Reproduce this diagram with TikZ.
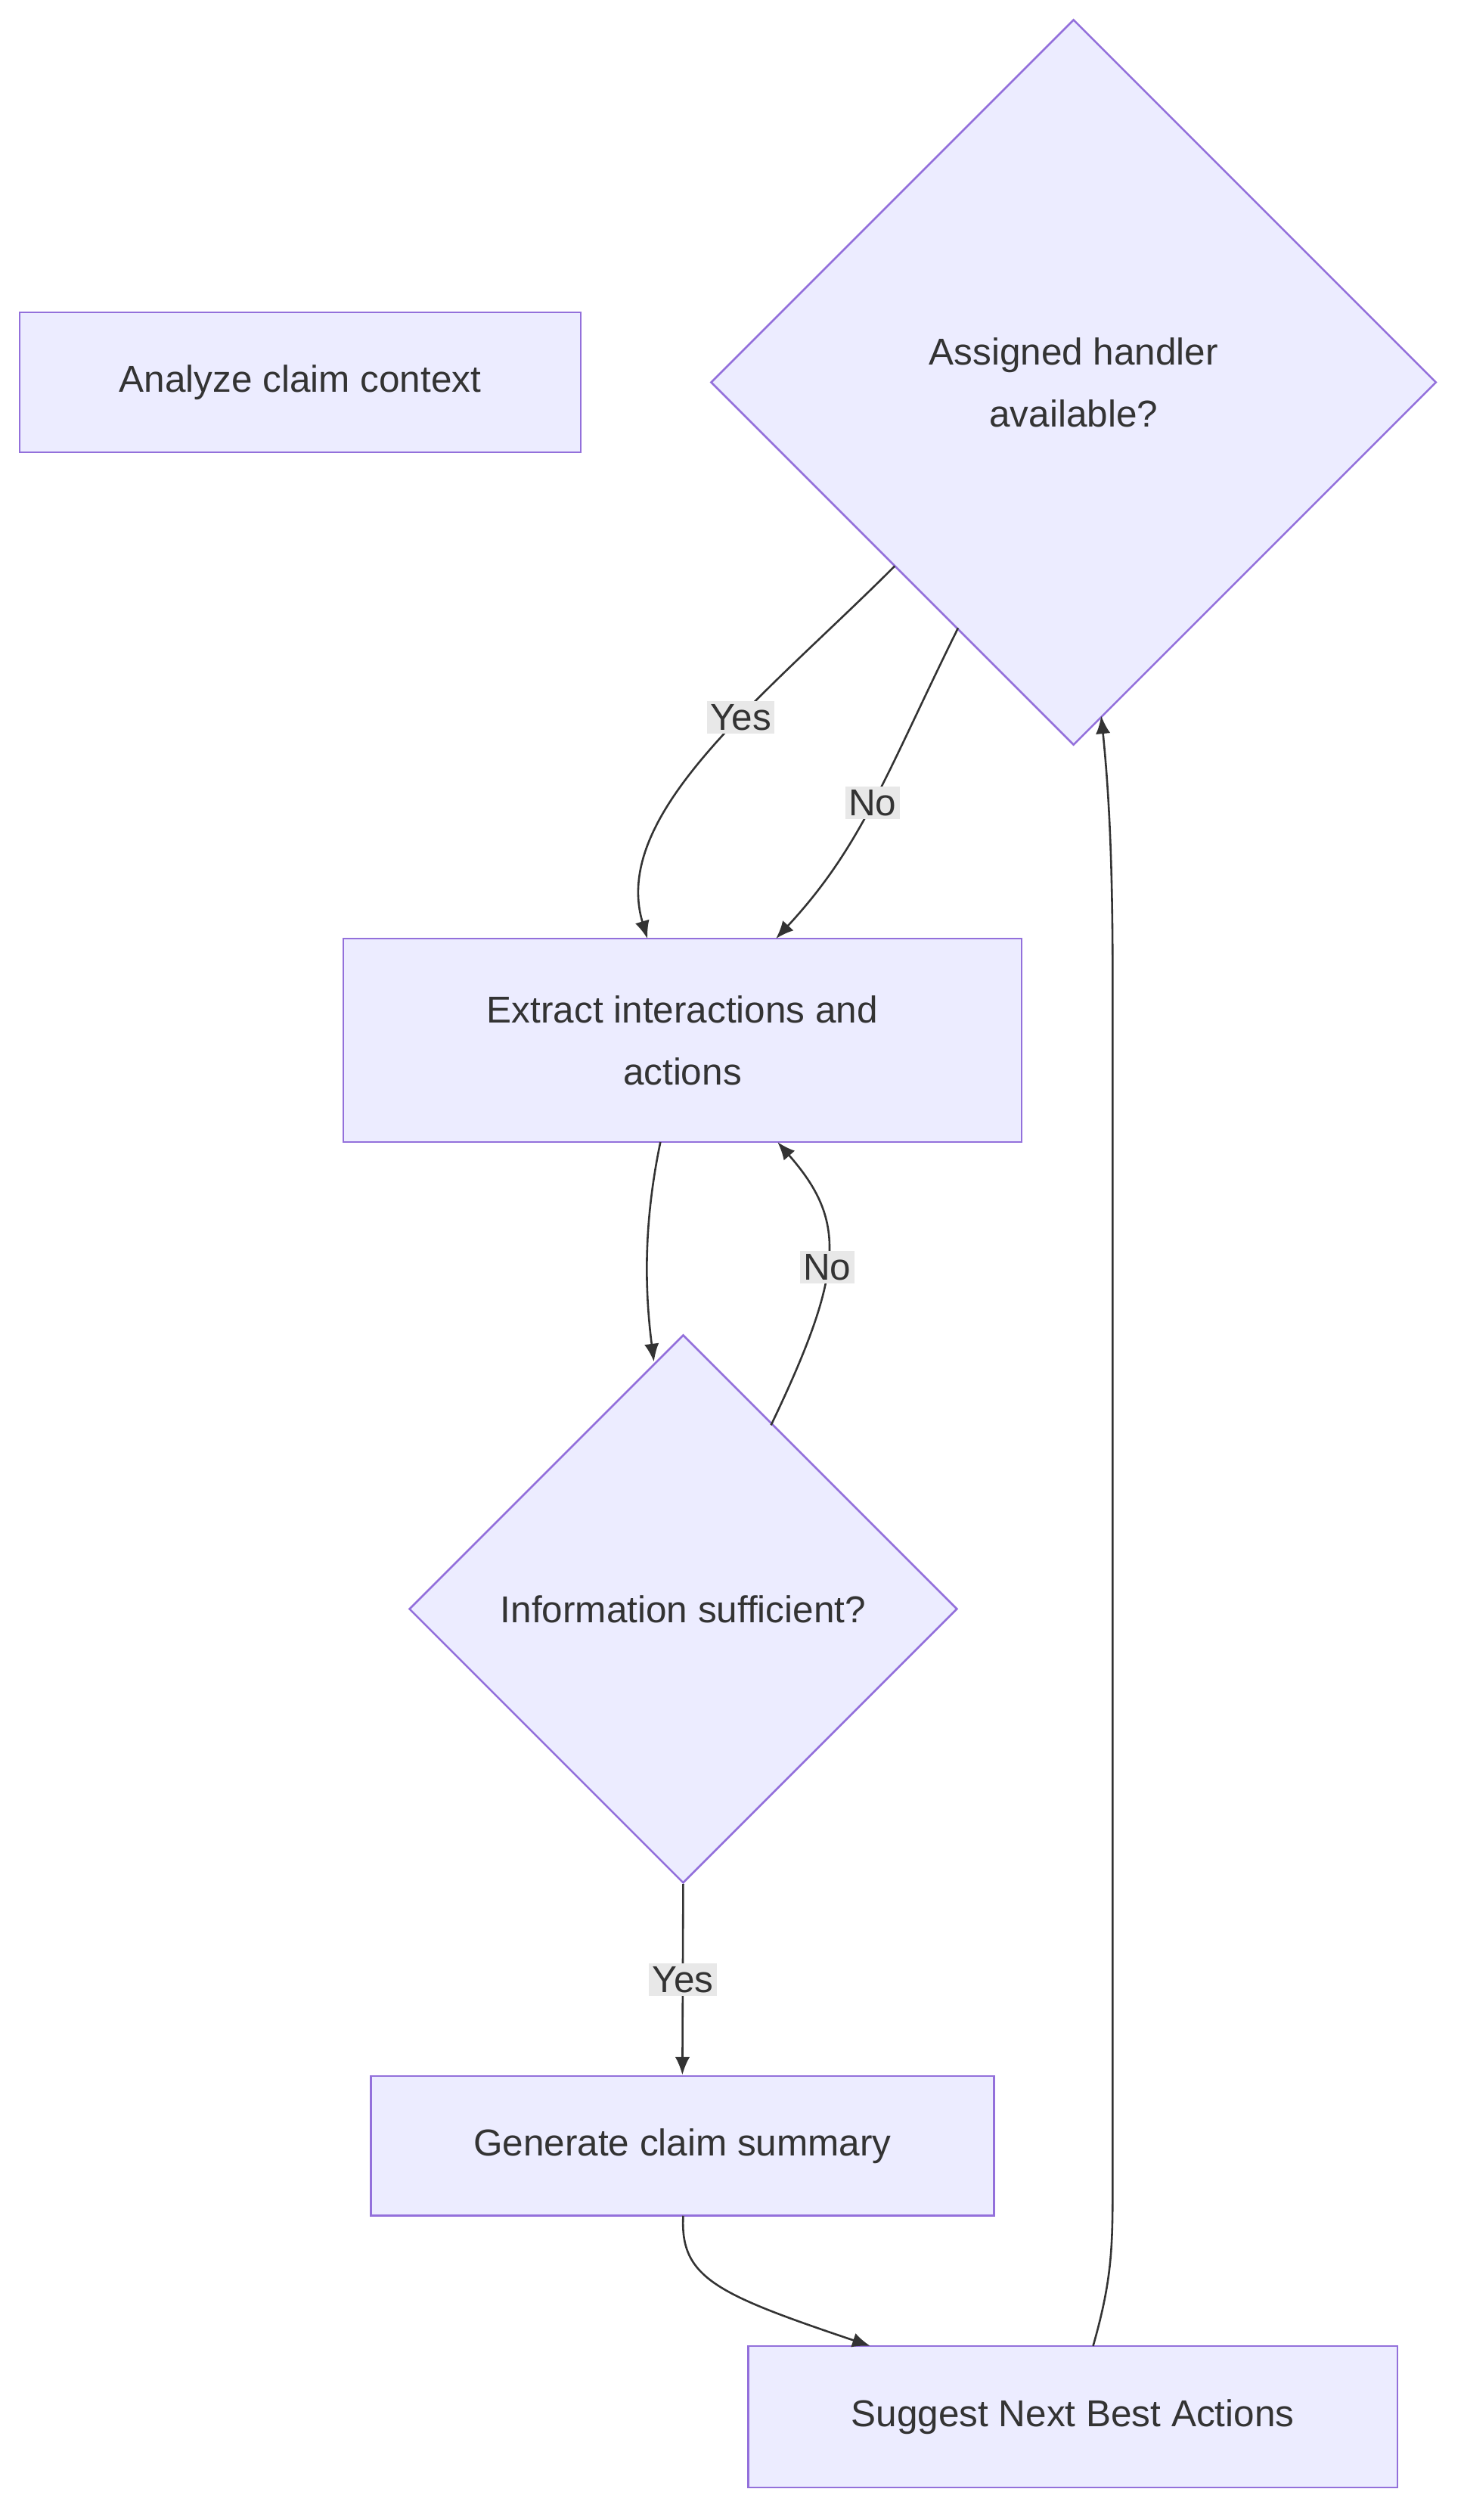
\documentclass[tikz,border=0pt]{standalone}
\usepackage{fontspec}
\setmainfont{Liberation Sans}
\usetikzlibrary{shapes.geometric,arrows.meta}
\definecolor{nf}{HTML}{ECECFF}
\definecolor{nb}{HTML}{9370DB}
\definecolor{tx}{HTML}{333333}
\definecolor{lb}{HTML}{E8E8E8}
\begin{document}
\begin{tikzpicture}[x=1pt,y=-1pt,
 box/.style={draw=nb,fill=nf,line width=1.2pt,text=tx,font=\fontsize{23}{38}\selectfont,align=center,inner sep=0},
 dia/.style={box,diamond},
 e/.style={draw=tx,line width=1.2pt,-{Latex[length=11pt,width=9pt]}},
 lab/.style={fill=lb,text=tx,font=\fontsize{23}{28}\selectfont,inner sep=2pt}]
\useasboundingbox (0,0) rectangle (900,1549);
\node[box,minimum width=345pt,minimum height=86pt] (a) at (184.5,235) {Analyze claim context};
\node[dia,minimum width=446pt,minimum height=446pt] (d1) at (660,235) {Assigned handler\\available?};
\node[box,minimum width=417pt,minimum height=125pt] (x) at (419.5,639.5) {Extract interactions and\\actions};
\node[dia,minimum width=337pt,minimum height=337pt] (d2) at (420,989) {Information sufficient?};
\node[box,minimum width=383pt,minimum height=86pt] (g) at (419.5,1319) {Generate claim summary};
\node[box,minimum width=399pt,minimum height=87pt] (s) at (659.5,1485.5) {Suggest Next Best Actions};
\coordinate (c1) at (550,348); \coordinate (c2) at (398,577);
\coordinate (c3) at (589,386); \coordinate (c4) at (477,577);
\coordinate (c5) at (406,702); \coordinate (c6) at (402,837);
\coordinate (c7) at (474,876); \coordinate (c8) at (478,702);
\coordinate (c9) at (420,1362); \coordinate (c10) at (535,1442);
\coordinate (c11) at (672,1442); \coordinate (c12) at (677,440);
\draw[e] (c1) .. controls (470,428) and (375,500) .. node[lab,pos=0.4]{Yes} (c2);
\draw[e] (c3) .. controls (545,475) and (530,520) .. node[lab,pos=0.5]{No} (c4);
\draw[e] (c5) .. controls (396,750) and (396,790) .. (c6);
\draw[e] (c7) .. controls (520,780) and (520,750) .. node[lab,pos=0.45]{No} (c8);
\draw[e] (d2.south) -- node[lab]{Yes} (g.north);
\draw[e] (c9) .. controls (418,1400) and (440,1410) .. (c10);
\draw[e] (c11) .. controls (684,1400) and (684,1380) .. (684,1340) -- (684,600) .. controls (684,520) and (681,480) .. (c12);
\end{tikzpicture}
\end{document}
